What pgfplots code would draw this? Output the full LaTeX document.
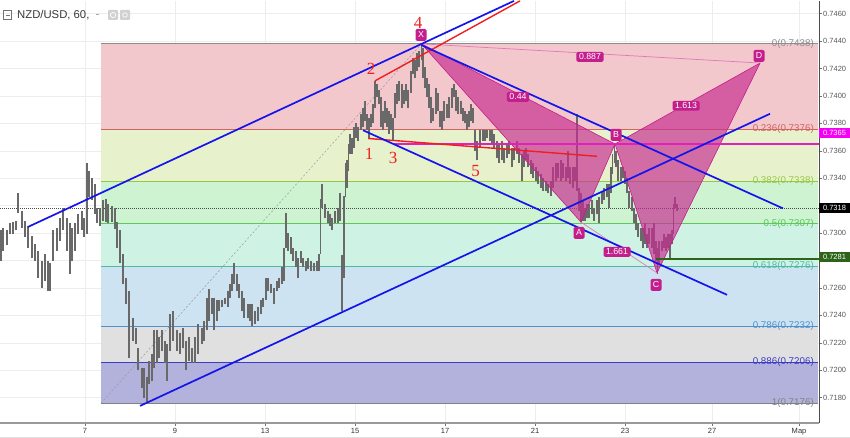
\documentclass[border=0pt]{standalone}
\usepackage{pgfplots}
\pgfplotsset{compat=1.18}
\usepackage{pgfplotstable}
\usepackage{fontspec}
\setmainfont{Liberation Sans}
\newfontfamily\serifnum{Liberation Serif}

\definecolor{fibA}{RGB}{242,200,204}
\definecolor{fibB}{RGB}{231,242,205}
\definecolor{fibC}{RGB}{206,243,208}
\definecolor{fibD}{RGB}{206,243,229}
\definecolor{fibE}{RGB}{206,227,241}
\definecolor{fibF}{RGB}{224,224,224}
\definecolor{fibG}{RGB}{178,178,220}
\definecolor{lA}{RGB}{140,140,140}
\definecolor{lB}{RGB}{210,100,95}
\definecolor{lC}{RGB}{150,200,70}
\definecolor{lD}{RGB}{90,200,90}
\definecolor{lE}{RGB}{80,185,165}
\definecolor{lF}{RGB}{80,145,205}
\definecolor{lG}{RGB}{60,60,200}
\definecolor{lH}{RGB}{130,130,130}
\definecolor{hm}{RGB}{196,30,140}
\definecolor{hmfill}{RGB}{200,45,145}
\definecolor{hmline}{RGB}{225,120,185}
\definecolor{mg}{RGB}{228,30,190}
\definecolor{mgbox}{RGB}{245,0,245}
\definecolor{bl}{RGB}{20,20,235}
\definecolor{rd}{RGB}{240,30,30}
\definecolor{dg}{RGB}{45,100,25}
\definecolor{barc}{RGB}{105,105,105}

\pgfplotstableread{
x h l
1 0.7302 0.7280
3 0.7304 0.7287
7 0.7302 0.7291
10 0.7307 0.7299
13 0.7308 0.7299
16 0.7309 0.7302
18 0.7329 0.7315
22 0.7316 0.7304
25 0.7309 0.7297
28 0.7305 0.7289
32 0.7298 0.7282
35 0.7292 0.7280
38 0.7287 0.7267
42 0.7280 0.7260
45 0.7285 0.7265
48 0.7280 0.7258
50 0.7278 0.7258
53 0.7302 0.7280
57 0.7304 0.7287
60 0.7311 0.7294
63 0.7318 0.7302
67 0.7311 0.7287
70 0.7307 0.7270
72 0.7304 0.7280
75 0.7307 0.7287
78 0.7314 0.7299
82 0.7316 0.7302
84 0.7311 0.7297
87 0.7351 0.7299
89 0.7345 0.7326
92 0.7340 0.7324
95 0.7336 0.7314
97 0.7318 0.7307
100 0.7318 0.7305
103 0.7324 0.7309
106 0.7325 0.7308
108 0.7321 0.7307
112 0.7320 0.7308
115 0.7318 0.7303
117 0.7308 0.7289
120 0.7302 0.7278
123 0.7285 0.7263
126 0.7267 0.7248
129 0.7258 0.7209
133 0.7238 0.7221
136 0.7231 0.7219
138 0.7216 0.7200
142 0.7202 0.7187
144 0.7202 0.7180
147 0.7195 0.7176
149 0.7207 0.7190
152 0.7212 0.7192
154 0.7229 0.7202
157 0.7229 0.7205
159 0.7224 0.7209
162 0.7229 0.7214
165 0.7221 0.7205
167 0.7219 0.7192
170 0.7241 0.7214
173 0.7243 0.7221
177 0.7229 0.7214
180 0.7227 0.7212
183 0.7231 0.7216
186 0.7221 0.7200
189 0.7224 0.7207
192 0.7216 0.7205
195 0.7224 0.7205
198 0.7234 0.7212
202 0.7231 0.7219
204 0.7236 0.7221
207 0.7253 0.7229
209 0.7259 0.7236
212 0.7253 0.7241
214 0.7253 0.7229
217 0.7251 0.7236
219 0.7251 0.7243
222 0.7251 0.7246
225 0.7253 0.7248
228 0.7258 0.7246
230 0.7263 0.7253
232 0.7270 0.7258
234 0.7278 0.7263
237 0.7270 0.7258
239 0.7263 0.7253
242 0.7258 0.7243
244 0.7253 0.7238
248 0.7248 0.7238
250 0.7248 0.7236
252 0.7248 0.7232
255 0.7243 0.7234
258 0.7246 0.7236
261 0.7251 0.7241
263 0.7253 0.7246
266 0.7267 0.7251
268 0.7267 0.7258
271 0.7263 0.7256
274 0.7260 0.7248
277 0.7265 0.7258
279 0.7267 0.7260
282 0.7275 0.7263
284 0.7289 0.7265
286 0.7315 0.7289
288 0.7300 0.7287
291 0.7297 0.7285
293 0.7289 0.7280
296 0.7287 0.7275
298 0.7282 0.7267
301 0.7287 0.7278
303 0.7282 0.7275
306 0.7280 0.7272
308 0.7282 0.7274
311 0.7280 0.7272
314 0.7278 0.7272
317 0.7280 0.7272
319 0.7285 0.7272
320.5 0.7325 0.7285
322 0.7336 0.7318
325 0.7321 0.7311
328 0.7316 0.7307
330 0.7314 0.7305
332 0.7311 0.7302
335 0.7316 0.7307
338 0.7318 0.7307
340 0.7329 0.7309
342 0.7284 0.7243
344 0.7327 0.7267
345.5 0.7351 0.7326
347 0.7353 0.7333
348.5 0.7365 0.7345
350 0.7372 0.7358
352 0.7369 0.7358
354 0.7377 0.7362
356 0.7380 0.7369
358 0.7377 0.7367
361 0.7387 0.7375
363 0.7391 0.7377
365 0.7396 0.7382
367 0.7387 0.7375
369 0.7384 0.7369
371 0.7387 0.7377
373 0.7394 0.7380
375 0.7411 0.7391
377 0.7409 0.7399
379 0.7404 0.7394
381 0.7399 0.7377
383 0.7389 0.7375
385 0.7396 0.7380
387 0.7391 0.7377
389 0.7389 0.7372
391 0.7387 0.7375
393 0.7384 0.7367
395 0.7402 0.7384
397 0.7409 0.7394
399 0.7411 0.7396
402 0.7409 0.7391
404 0.7404 0.7394
406 0.7409 0.7396
408 0.7404 0.7391
411 0.7418 0.7402
413 0.7428 0.7416
415 0.7426 0.7413
417 0.7431 0.7418
419 0.7433 0.7421
421.5 0.7438 0.7426
423 0.7435 0.7413
425 0.7421 0.7406
427 0.7413 0.7399
429 0.7409 0.7391
431 0.7399 0.7380
433 0.7391 0.7382
436 0.7406 0.7387
438 0.7402 0.7389
440 0.7389 0.7377
442 0.7389 0.7375
444 0.7396 0.7382
447 0.7394 0.7384
449 0.7399 0.7384
452 0.7406 0.7391
454 0.7409 0.7399
456 0.7404 0.7389
458 0.7399 0.7387
461 0.7396 0.7387
463 0.7391 0.7382
465 0.7389 0.7380
467 0.7387 0.7375
469 0.7389 0.7377
471 0.7394 0.7382
473 0.7391 0.7380
475 0.7375 0.7360
477 0.7367 0.7353
480 0.7375 0.7362
483 0.7375 0.7367
485 0.7375 0.7367
487 0.7375 0.7369
490 0.7375 0.7367
492 0.7375 0.7365
494 0.7372 0.7362
497 0.7367 0.7355
499 0.7365 0.7351
502 0.7367 0.7353
504 0.7362 0.7351
507 0.7365 0.7355
509 0.7367 0.7358
512 0.7362 0.7348
514 0.7362 0.7353
517 0.7367 0.7358
519 0.7362 0.7351
522 0.7358 0.7338
524 0.7360 0.7348
526 0.7362 0.7353
528 0.7358 0.7348
531 0.7353 0.7343
533 0.7351 0.7340
536 0.7348 0.7338
538 0.7345 0.7336
541 0.7343 0.7333
543 0.7340 0.7331
546 0.7338 0.7331
548 0.7336 0.7329
551 0.7338 0.7327
553 0.7348 0.7333
556 0.7351 0.7338
558 0.7351 0.7340
561 0.7353 0.7338
563 0.7351 0.7340
566 0.7348 0.7338
568 0.7360 0.7340
570 0.7348 0.7336
573 0.7348 0.7333
575 0.7348 0.7338
577 0.7387 0.7331
579 0.7333 0.7316
581 0.7329 0.7308
583 0.7324 0.7309
585 0.7318 0.7309
587 0.7321 0.7311
589 0.7321 0.7311
592 0.7324 0.7314
594 0.7318 0.7309
597 0.7324 0.7314
599 0.7326 0.7307
602 0.7331 0.7321
604 0.7333 0.7324
607 0.7336 0.7326
609 0.7336 0.7318
611 0.7348 0.7329
612.5 0.7358 0.7343
614.5 0.7365 0.7351
616 0.7360 0.7348
618 0.7353 0.7338
621 0.7348 0.7338
623 0.7348 0.7340
625 0.7345 0.7336
627 0.7340 0.7329
629 0.7331 0.7318
632 0.7326 0.7316
634 0.7318 0.7307
636 0.7314 0.7302
638 0.7307 0.7297
641 0.7304 0.7294
643 0.7304 0.7289
645 0.7307 0.7292
647 0.7299 0.7289
649 0.7304 0.7292
652 0.7304 0.7289
654 0.7307 0.7285
656 0.7294 0.7280
657.5 0.7289 0.7270
659 0.7294 0.7278
662 0.7294 0.7287
664 0.7299 0.7289
666 0.7297 0.7287
668 0.7299 0.7289
670 0.7299 0.7282
672 0.7302 0.7292
673.5 0.7321 0.7299
675 0.7326 0.7318
677 0.7321 0.7316
}\bars

\begin{document}
\begin{tikzpicture}[x=1pt,y=1pt]
\begin{axis}[
  at={(0,11)}, anchor=south west,
  width=819pt, height=422pt, scale only axis,
  xmin=0, xmax=819, ymin=0.71616, ymax=0.74693,
  axis x line*=bottom, axis y line*=right,
  x axis line style={draw=black!40, line width=1.6pt},
  y axis line style={draw=black!70, line width=0.8pt},
  tick align=outside, major tick length=3pt,
  tick style={black!55, line width=0.5pt},
  xtick={85,175,265,355,445,535,625,712,799},
  xticklabels={7,9,13,15,17,21,23,27,Мар},
  ytick={0.7180,0.7200,0.7220,0.7240,0.7260,0.7280,0.7300,0.7320,0.7340,0.7360,0.7380,0.7400,0.7420,0.7440,0.7460},
  yticklabels={0.7180,0.7200,0.7220,0.7240,0.7260,{},0.7300,{},0.7340,0.7360,0.7380,0.7400,0.7420,0.7440,0.7460},
  xticklabel style={font=\fontsize{7.5}{8}\selectfont, text=black!80, inner sep=0pt, anchor=north, yshift=-2pt},
  yticklabel style={font=\fontsize{7.5}{8}\selectfont, text=black!65, inner sep=0pt, anchor=west, xshift=1pt},
  grid=major, major grid style={black!7, line width=0.5pt},
]
% Fibonacci bands
\addplot[fill=fibA, draw=none, forget plot] coordinates {(101,0.7376)(818,0.7376)(818,0.7438)(101,0.7438)} -- cycle;
\addplot[fill=fibB, draw=none, forget plot] coordinates {(101,0.7338)(818,0.7338)(818,0.7376)(101,0.7376)} -- cycle;
\addplot[fill=fibC, draw=none, forget plot] coordinates {(101,0.7307)(818,0.7307)(818,0.7338)(101,0.7338)} -- cycle;
\addplot[fill=fibD, draw=none, forget plot] coordinates {(101,0.7276)(818,0.7276)(818,0.7307)(101,0.7307)} -- cycle;
\addplot[fill=fibE, draw=none, forget plot] coordinates {(101,0.7232)(818,0.7232)(818,0.7276)(101,0.7276)} -- cycle;
\addplot[fill=fibF, draw=none, forget plot] coordinates {(101,0.7206)(818,0.7206)(818,0.7232)(101,0.7232)} -- cycle;
\addplot[fill=fibG, draw=none, forget plot] coordinates {(101,0.7176)(818,0.7176)(818,0.7206)(101,0.7206)} -- cycle;
% Fibonacci level lines
\addplot[lA, line width=0.7pt] coordinates {(101,0.7438)(818,0.7438)};
\addplot[lB, line width=0.7pt] coordinates {(101,0.7376)(818,0.7376)};
\addplot[lC, line width=0.7pt] coordinates {(101,0.7338)(818,0.7338)};
\addplot[lD, line width=0.7pt] coordinates {(101,0.7307)(818,0.7307)};
\addplot[lE, line width=0.7pt] coordinates {(101,0.7276)(818,0.7276)};
\addplot[lF, line width=0.7pt] coordinates {(101,0.7232)(818,0.7232)};
\addplot[lG, line width=0.7pt] coordinates {(101,0.7206)(818,0.7206)};
\addplot[lH, line width=0.7pt] coordinates {(101,0.7176)(818,0.7176)};
% fib trend (dotted diagonal)
\addplot[black!40, line width=0.5pt, dash pattern=on 2pt off 2pt] coordinates {(101,0.7176)(421.5,0.7438)};
% current price line
\addplot[black!70, line width=0.5pt, dash pattern=on 1pt off 1pt] coordinates {(0,0.7318)(819,0.7318)};
% price bars
\addplot[draw=none, mark=none, forget plot,
  error bars/.cd, y dir=plus, y explicit, error mark=none,
  error bar style={draw=barc, line width=1.1pt}]
  table[x=x, y=l, y error expr=\thisrow{h}-\thisrow{l}] {\bars};
% harmonic pattern triangles
\addplot[fill=hmfill, fill opacity=0.68, draw=hm, line width=0.6pt] coordinates {(421.5,0.7438)(581,0.7308)(615,0.7365)} -- cycle;
\addplot[fill=hmfill, fill opacity=0.68, draw=hm, line width=0.6pt] coordinates {(615,0.7365)(657,0.7271)(760,0.7424)} -- cycle;
\addplot[hmline, line width=0.7pt] coordinates {(421.5,0.7438)(760,0.7424)};
\addplot[hmline, line width=0.7pt] coordinates {(581,0.7308)(657,0.7271)};
% horizontal lines
\addplot[mg, line width=1.2pt] coordinates {(393,0.7365)(819,0.7365)};
\addplot[dg, line width=1.4pt] coordinates {(656,0.7281)(819,0.7281)};
% red lines
\addplot[rd, line width=1.4pt] coordinates {(368,0.7369)(597,0.7356)};
\addplot[rd, line width=1.4pt] coordinates {(375,0.7411)(520,0.74693)};
% blue channel lines
\addplot[bl, line width=1.7pt] coordinates {(28,0.73045)(514,0.74693)};
\addplot[bl, line width=1.7pt] coordinates {(140,0.7174)(770,0.7387)};
\addplot[bl, line width=1.7pt] coordinates {(421.5,0.7437)(783,0.7318)};
\addplot[bl, line width=1.7pt] coordinates {(363,0.7375)(727,0.7255)};

% Fibonacci labels
\begin{scope}[every node/.style={anchor=east, inner sep=0pt, font=\fontsize{9.8}{10}\selectfont}]
\node[text=lA] at (axis cs:814,0.7438) {0(0.7438)};
\node[text=lB] at (axis cs:814,0.7376) {0.236(0.7376)};
\node[text=lC] at (axis cs:814,0.7338) {0.382(0.7338)};
\node[text=lD] at (axis cs:814,0.7307) {0.5(0.7307)};
\node[text=lE] at (axis cs:814,0.7276) {0.618(0.7276)};
\node[text=lF] at (axis cs:814,0.7232) {0.786(0.7232)};
\node[text=lG] at (axis cs:814,0.7206) {0.886(0.7206)};
\node[text=lH] at (axis cs:814,0.7176) {1(0.7176)};
\end{scope}
% harmonic labels
\begin{scope}[every node/.style={fill=hm, text=white, rounded corners=1.5pt, inner xsep=2.5pt, inner ysep=1.8pt, font=\fontsize{8.8}{9}\selectfont}]
\node at (axis cs:590,0.74285) {0.887};
\node at (axis cs:518,0.73993) {0.44};
\node at (axis cs:686,0.73928) {1.613};
\node at (axis cs:617,0.72863) {1.661};
\node[minimum width=11pt, minimum height=12pt, inner sep=0pt] at (axis cs:421,0.74445) {X};
\node[minimum width=11pt, minimum height=12pt, inner sep=0pt] at (axis cs:579,0.73002) {A};
\node[minimum width=11pt, minimum height=12pt, inner sep=0pt] at (axis cs:616,0.73716) {B};
\node[minimum width=11pt, minimum height=12pt, inner sep=0pt] at (axis cs:656,0.72623) {C};
\node[minimum width=11pt, minimum height=12pt, inner sep=0pt] at (axis cs:759,0.74292) {D};
\end{scope}
% wave count
\begin{scope}[every node/.style={text=rd, inner sep=0pt, font=\serifnum\fontsize{17}{17}\selectfont}]
\node at (axis cs:369,0.73578) {1};
\node at (axis cs:371,0.74197) {2};
\node at (axis cs:393,0.73548) {3};
\node at (axis cs:418,0.74533) {4};
\node at (axis cs:475.5,0.73454) {5};
\end{scope}
\end{axis}

% title and icons
\draw[black!55, line width=0.6pt] (3.5,418.5) rectangle (11.5,427.5);
\draw[black!55, line width=0.6pt] (5.5,423) -- (9.5,423);
\node[anchor=base west, inner sep=0pt, text=black!78, font=\fontsize{11.3}{12}\selectfont] at (17,419) {NZD/USD, 60,};
\draw[black!35, line width=0.6pt] (96,423.5) -- (99,423.5);
\fill[black!18, rounded corners=1pt] (108,418) rectangle (118,428);
\fill[black!18, rounded corners=1pt] (120,418) rectangle (130,428);
\draw[white, line width=0.7pt] (113,423) circle (2.6pt);
\draw[white, line width=0.7pt] (125,423) circle (2.3pt);

% right price boxes
\node[fill=mgbox, text=white, minimum width=31pt, minimum height=9.5pt, inner sep=0pt, font=\fontsize{7.5}{8}\selectfont] at (834.5,305) {0.7365};
\node[fill=black, text=white, minimum width=31pt, minimum height=9.5pt, inner sep=0pt, font=\fontsize{7.5}{8}\selectfont] at (834.5,230) {0.7318};
\node[fill=dg, text=white, minimum width=31pt, minimum height=9.5pt, inner sep=0pt, font=\fontsize{7.5}{8}\selectfont] at (834.5,181) {0.7281};
\draw[black!12, line width=0.8pt] (0,0.5) -- (850,0.5);
\pgfresetboundingbox
\useasboundingbox (0,0) rectangle (850,438);
\end{tikzpicture}
\end{document}
